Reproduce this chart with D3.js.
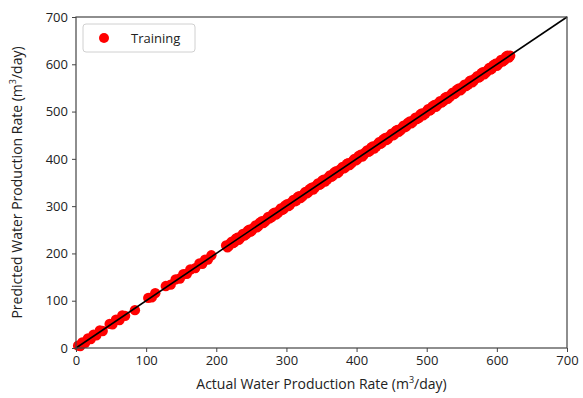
<!DOCTYPE html>
<html><head><meta charset="utf-8">
<script src="https://cdn.jsdelivr.net/npm/d3@7"></script>
<style>body{margin:0;background:#fff}svg{display:block}text{font-family:"Open Sans",sans-serif;fill:#222}</style>
</head><body><svg id="c" width="583" height="398"></svg>
<script>
const xTicks=[0,100,200,300,400,500,600,700];
const yTicks=[0,100,200,300,400,500,600,700];
const actualA=[3,6,9,13,17,21,25,29,34,38,48,52,57,62,66,70,84,103,108,113,128,135,142,148,153,158,163,170,176,180,184,188,193,
214,218,222,226,230,234,238,243,247,251,256,260,265,270,274,279,283,288,292,296,301,305,310,314,318,323,327,331,336,340,345,349,353,358,362,366,371,375,380,384,388,393,397,401,406,410,415,419,423,428,432,436,441,445,450,454,458,463,467,471,476,480,484,489,493,498,502,506,511,515,519,524,528,533,537,541,546,550,554,559,563,567,572,576,580,585,589,593,598,602,606,611,615,619];
const predictedA=[5,4,12,11,20,19,28,27,37,36,51,50,60,59,69,68,80,106,107,116,131,134,145,147,156,157,166,169,179,178,187,187,196,
217,216,225,224,233,232,241,241,250,249,259,258,268,268,277,277,286,286,295,294,304,303,313,312,321,321,330,329,339,338,348,347,356,356,365,364,374,373,383,382,391,391,400,399,409,408,418,417,426,426,435,434,444,443,453,452,461,461,470,469,479,478,487,487,496,496,505,504,514,513,522,522,531,531,540,539,549,548,557,557,566,565,575,574,583,583,592,591,601,600,609,609,618,618];
const actualB=[216,220,224,228,232,236,240,245,249,253,258,262,267,272,276,281,285,290,294,298,303,307,312,316,320,325,329,333,338,342,347,351,355,360,364,368,373,377,382,386,390,395,399,403,408,412,417,421,425,430,434,438,443,447,452,456,460,465,469,473,478,482,486,491,495,500,504,508,513,517,521,526,530,535,539,543,548,552,556,561,565,569,574,578,582,587,591,595,600,604,608,613,617];
const predictedB=[213,221,222,231,229,237,238,248,246,254,255,265,264,273,274,284,282,291,292,301,300,308,310,319,317,326,327,336,335,343,345,354,352,361,362,371,370,378,380,389,387,396,397,406,405,413,415,424,422,431,432,441,440,448,450,459,457,466,467,476,475,483,484,494,492,501,502,511,510,518,519,529,527,536,537,546,545,553,554,564,562,570,572,581,579,588,589,598,597,605,606,616,614];
const actual=actualA.concat(actualB), predicted=predictedA.concat(predictedB);
const svg=d3.select("#c");
const L=76,R=567,T=17,B=348;
const x=d3.scaleLinear().domain([0,700]).range([L,R]);
const y=d3.scaleLinear().domain([0,700]).range([B,T]);
svg.append("g").selectAll("circle").data(actual).join("circle")
  .attr("cx",(d)=>x(d)).attr("cy",(d,i)=>y(predicted[i])).attr("r",5.2).attr("fill","#ff0000");
svg.append("line").attr("x1",x(0)).attr("y1",y(0)).attr("x2",x(700)).attr("y2",y(700))
  .attr("stroke","#000").attr("stroke-width",1.6);
const ax=svg.append("g").attr("transform",`translate(0,${B})`).call(d3.axisBottom(x).tickValues(xTicks).tickSize(4).tickPadding(4));
const ay=svg.append("g").attr("transform",`translate(${L},0)`).call(d3.axisLeft(y).tickValues(yTicks).tickSize(4).tickPadding(4));
[ax,ay].forEach(g=>{g.select(".domain").remove();g.selectAll("line").attr("stroke","#444");g.selectAll("text").attr("font-size",13).attr("font-family","'Open Sans',sans-serif").attr("fill","#1a1a1a");});
svg.append("rect").attr("x",L).attr("y",T).attr("width",R-L).attr("height",B-T).attr("fill","none").attr("stroke","#444").attr("stroke-width",1.2);
const xl=svg.append("text").attr("x",(L+R)/2).attr("y",389).attr("text-anchor","middle").attr("font-size",14);
xl.append("tspan").text("Actual Water Production Rate (m");
xl.append("tspan").text("3").attr("font-size",9).attr("dy",-6);
xl.append("tspan").text("/day)").attr("dy",6);
const yl=svg.append("text").attr("transform",`translate(22,${(T+B)/2}) rotate(-90)`).attr("text-anchor","middle").attr("font-size",14);
yl.append("tspan").text("Predicted Water Production Rate (m");
yl.append("tspan").text("3").attr("font-size",9).attr("dy",-6);
yl.append("tspan").text("/day)").attr("dy",6);
const lg=svg.append("g");
lg.append("rect").attr("x",83).attr("y",24).attr("width",112).attr("height",28).attr("rx",3)
  .attr("fill","#fff").attr("stroke","#d0d0d0");
lg.append("circle").attr("cx",104).attr("cy",38).attr("r",5).attr("fill","#ff0000");
lg.append("text").attr("x",131).attr("y",38).attr("dy","0.35em").attr("font-size",13).text("Training");
</script></body></html>
